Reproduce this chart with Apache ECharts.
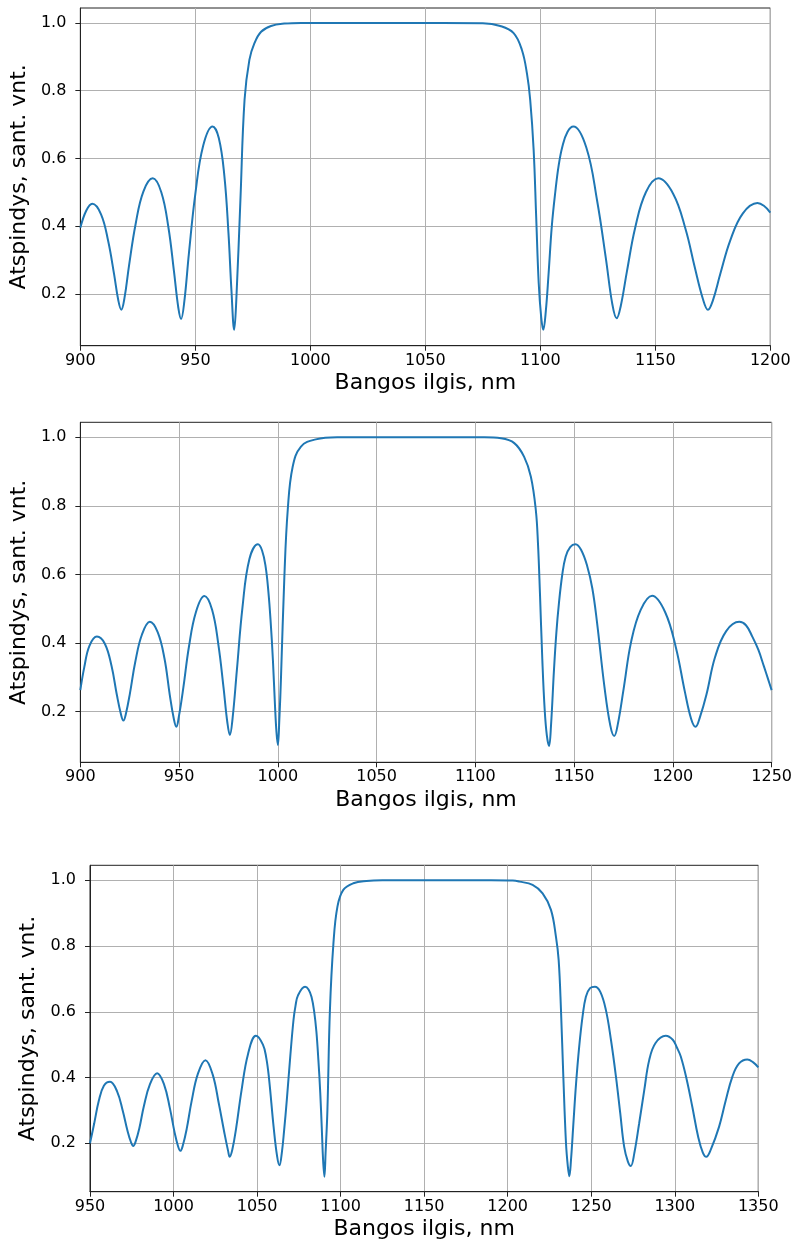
<!DOCTYPE html>
<html><head><meta charset="utf-8">
<script src="https://cdn.jsdelivr.net/npm/echarts@6/dist/echarts.min.js"></script>
<style>html,body{margin:0;padding:0;background:#fff}#c{width:795px;height:1245px}</style>
</head><body><div id="c"></div>
<script>
// Panel 1 (900–1200 nm)
const wl1 = [900, 902.6, 905.2, 909.0, 912.1, 914.65, 916.5, 917.8, 919.2, 921.2, 924.0, 927.4, 931.5, 935.2, 938.3, 940.7, 942.6, 943.8, 945.2, 947.2, 950.0, 953.4, 957.5, 960.2, 962.6, 964.4, 965.7, 966.9, 967.8, 969.6, 971.4, 973.5, 975.7, 978.6, 982.9, 988.7, 996, 1040, 1075, 1082.6, 1088.4, 1092.0, 1094.2, 1095.6, 1097.1, 1098.2, 1099.3, 1100.4, 1101.3, 1102.4, 1103.6, 1105, 1106.5, 1108, 1109.6, 1111.8, 1114.4, 1120.0, 1124.7, 1128.5, 1131.3, 1133.2, 1135.0, 1137.7, 1141.3, 1145.9, 1151.3, 1157.8, 1163.2, 1167.1, 1170.7, 1172.9, 1175.05, 1178.3, 1182.6, 1188.0, 1194.4, 1197.2, 1200];
const r1 = [0.395, 0.446, 0.466, 0.435, 0.356, 0.259, 0.181, 0.153, 0.188, 0.285, 0.405, 0.502, 0.541, 0.500, 0.396, 0.267, 0.159, 0.126, 0.177, 0.319, 0.495, 0.637, 0.694, 0.66, 0.55, 0.38, 0.21, 0.094, 0.18, 0.477, 0.773, 0.891, 0.94, 0.974, 0.991, 0.998, 1.0, 1.0, 0.999, 0.991, 0.97, 0.92, 0.85, 0.773, 0.625, 0.428, 0.232, 0.13, 0.094, 0.15, 0.26, 0.40, 0.50, 0.58, 0.635, 0.678, 0.694, 0.632, 0.475, 0.305, 0.17, 0.128, 0.165, 0.268, 0.397, 0.500, 0.541, 0.495, 0.39, 0.28, 0.185, 0.153, 0.181, 0.260, 0.358, 0.437, 0.468, 0.46, 0.44];

// Panel 2 (900–1250 nm)
const wl2 = [900, 902.0, 904.6, 908.4, 912.4, 915.8, 918.45, 920.5, 921.8, 923.1, 925.15, 927.8, 931.2, 935.2, 939.2, 942.6, 945.25, 947.3, 948.6, 950.0, 952.15, 955.0, 958.5, 962.8, 966.7, 969.9, 972.5, 974.4, 975.7, 977.1, 979.25, 982.1, 985.6, 989.9, 992.0, 993.8, 995.2, 996.3, 997.5, 998.5, 999.3, 1000.0, 1000.7, 1001.6, 1003.3, 1005.0, 1007.5, 1011.7, 1019.2, 1030, 1070, 1104.6, 1113, 1119.7, 1124.7, 1128.1, 1130.6, 1131.7, 1132.7, 1133.9, 1135.1, 1136.2, 1137.3, 1138.3, 1139.8, 1141.0, 1142.3, 1144.0, 1145.7, 1148.0, 1150.7, 1153.5, 1156.6, 1159.2, 1161.5, 1165.4, 1168.3, 1170.3, 1172.2, 1175.1, 1178.9, 1183.7, 1189.5, 1196.1, 1201.6, 1206.0, 1209.3, 1211.5, 1213.7, 1217.0, 1221.4, 1227.0, 1233.6, 1237.0, 1240.2, 1243.3, 1246.1, 1248.2, 1250];
const r2 = [0.263, 0.33, 0.392, 0.419, 0.398, 0.333, 0.25, 0.194, 0.174, 0.195, 0.255, 0.345, 0.425, 0.462, 0.431, 0.355, 0.25, 0.18, 0.156, 0.19, 0.27, 0.39, 0.49, 0.537, 0.497, 0.395, 0.27, 0.17, 0.132, 0.182, 0.321, 0.505, 0.645, 0.688, 0.67, 0.623, 0.55, 0.467, 0.35, 0.224, 0.14, 0.103, 0.17, 0.302, 0.594, 0.788, 0.914, 0.973, 0.994, 1.0, 1.0, 1.0, 0.997, 0.983, 0.943, 0.885, 0.788, 0.69, 0.545, 0.351, 0.205, 0.13, 0.10, 0.16, 0.322, 0.43, 0.516, 0.60, 0.652, 0.68, 0.688, 0.672, 0.625, 0.56, 0.465, 0.27, 0.16, 0.129, 0.166, 0.268, 0.405, 0.497, 0.538, 0.49, 0.385, 0.26, 0.178, 0.156, 0.184, 0.25, 0.36, 0.435, 0.462, 0.452, 0.419, 0.38, 0.332, 0.295, 0.263];

// Panel 3 (950–1350 nm)
const wl3 = [950, 952.5, 955.3, 958.3, 962.0, 966.2, 969.6, 972.4, 974.5, 975.9, 977.3, 979.5, 982.3, 985.9, 990.2, 994.4, 997.8, 1000.6, 1002.7, 1004.1, 1005.6, 1007.85, 1010.85, 1014.6, 1019.1, 1023.45, 1027.1, 1030.5, 1032.65, 1033.6, 1035.2, 1037.5, 1040.7, 1044.6, 1049.3, 1053.5, 1055.5, 1057.1, 1059.9, 1062.0, 1063.4, 1064.9, 1066.2, 1067.8, 1069.8, 1071.8, 1073.0, 1074.5, 1078.7, 1080.8, 1082.6, 1084.2, 1085.5, 1086.7, 1087.8, 1088.7, 1089.5, 1090.3, 1091.0, 1092.1, 1093.6, 1095.7, 1098.1, 1101.6, 1107.6, 1115.5, 1125, 1160, 1190, 1203, 1207.0, 1214.9, 1220.9, 1225.9, 1228.9, 1230.5, 1231.9, 1233.3, 1234.9, 1236.0, 1236.9, 1237.9, 1239.2, 1240.9, 1242.8, 1244.8, 1246.8, 1249.3, 1252.2, 1255.5, 1258.8, 1261.8, 1264.8, 1267.4, 1269.7, 1271.9, 1273.7, 1275.8, 1278.7, 1281.7, 1284.7, 1288.5, 1294.6, 1298.8, 1301.2, 1303.6, 1307.1, 1310.5, 1314.0, 1316.8, 1318.9, 1321.5, 1326.5, 1330.5, 1334.5, 1338.5, 1343.4, 1346.8, 1350];
const r3 = [0.2, 0.26, 0.33, 0.375, 0.387, 0.358, 0.299, 0.239, 0.204, 0.192, 0.205, 0.245, 0.314, 0.380, 0.413, 0.378, 0.307, 0.234, 0.191, 0.177, 0.194, 0.243, 0.329, 0.412, 0.453, 0.409, 0.321, 0.230, 0.177, 0.159, 0.181, 0.247, 0.361, 0.472, 0.527, 0.50, 0.46, 0.40, 0.25, 0.16, 0.133, 0.175, 0.24, 0.332, 0.46, 0.575, 0.618, 0.65, 0.676, 0.668, 0.645, 0.60, 0.54, 0.453, 0.355, 0.25, 0.15, 0.098, 0.17, 0.301, 0.605, 0.808, 0.92, 0.971, 0.991, 0.998, 1.0, 1.0, 1.0, 0.999, 0.996, 0.986, 0.96, 0.91, 0.828, 0.758, 0.605, 0.403, 0.2, 0.13, 0.10, 0.15, 0.25, 0.38, 0.494, 0.585, 0.646, 0.672, 0.676, 0.66, 0.605, 0.515, 0.403, 0.29, 0.19, 0.145, 0.131, 0.17, 0.261, 0.36, 0.453, 0.505, 0.527, 0.515, 0.492, 0.464, 0.395, 0.311, 0.22, 0.172, 0.159, 0.18, 0.25, 0.33, 0.403, 0.443, 0.455, 0.447, 0.431];

const yTicks = [0.2, 0.4, 0.6, 0.8, 1.0];
const xLabel = 'Bangos ilgis, nm';
const yLabel = 'Atspindys, sant. vnt.';

const panels = [
  {wl: wl1, r: r1, x: [900, 1200], y: [0.047, 1.044], g: {left: 78.7, top: 8, width: 691.6, height: 337.7}},
  {wl: wl2, r: r2, x: [900, 1250], y: [0.0525, 1.0437], g: {left: 76, top: 422.3, width: 696.7, height: 340}},
  {wl: wl3, r: r3, x: [950, 1350], y: [0.0528, 1.0456], g: {left: 90, top: 865.3, width: 668.3, height: 326.4}}
];

const FONT = 'DejaVu Sans';
const spine = '#222';
const gridC = '#b0b0b0';

const option = {
  backgroundColor: '#fff',
  animation: false,
  grid: panels.map(p => Object.assign({show: true, borderColor: spine, borderWidth: 1, backgroundColor: 'transparent', containLabel: false}, p.g)),
  xAxis: panels.map((p, i) => ({
    type: 'value', gridIndex: i, min: p.x[0], max: p.x[1], interval: 50,
    name: xLabel, nameLocation: 'middle', nameGap: 27,
    nameTextStyle: {fontFamily: FONT, fontSize: 22, color: '#000'},
    axisLine: {show: true, onZero: false, lineStyle: {color: spine, width: 1}},
    axisTick: {show: true, length: 5, lineStyle: {color: spine, width: 1}},
    axisLabel: {fontFamily: FONT, fontSize: 16, color: '#000', margin: 7, showMinLabel: true, showMaxLabel: true,
      formatter: v => String(v)},
    splitLine: {show: true, lineStyle: {color: gridC, width: 1}}
  })),
  yAxis: panels.map((p, i) => ({
    type: 'value', gridIndex: i, min: p.y[0], max: p.y[1],
    name: yLabel, nameLocation: 'middle', nameGap: 42,
    nameTextStyle: {fontFamily: FONT, fontSize: 22, color: '#000'},
    axisLine: {show: true, onZero: false, lineStyle: {color: spine, width: 1}},
    axisTick: {show: true, length: 5, customValues: yTicks, lineStyle: {color: spine, width: 1}},
    axisLabel: {fontFamily: FONT, fontSize: 16, color: '#000', margin: 14, customValues: yTicks,
      formatter: v => v.toFixed(1)},
    splitLine: {show: true, lineStyle: {color: gridC, width: 1}}
  })),
  series: panels.map((p, i) => ({
    type: 'line', xAxisIndex: i, yAxisIndex: i,
    data: p.wl.map((w, k) => [w, p.r[k]]),
    showSymbol: false, smooth: 0.4, clip: true,
    lineStyle: {color: '#1f77b4', width: 2}
  }))
};

const chart = echarts.init(document.getElementById('c'), null, {renderer: 'canvas'});
chart.setOption(option);
</script>
</body></html>
